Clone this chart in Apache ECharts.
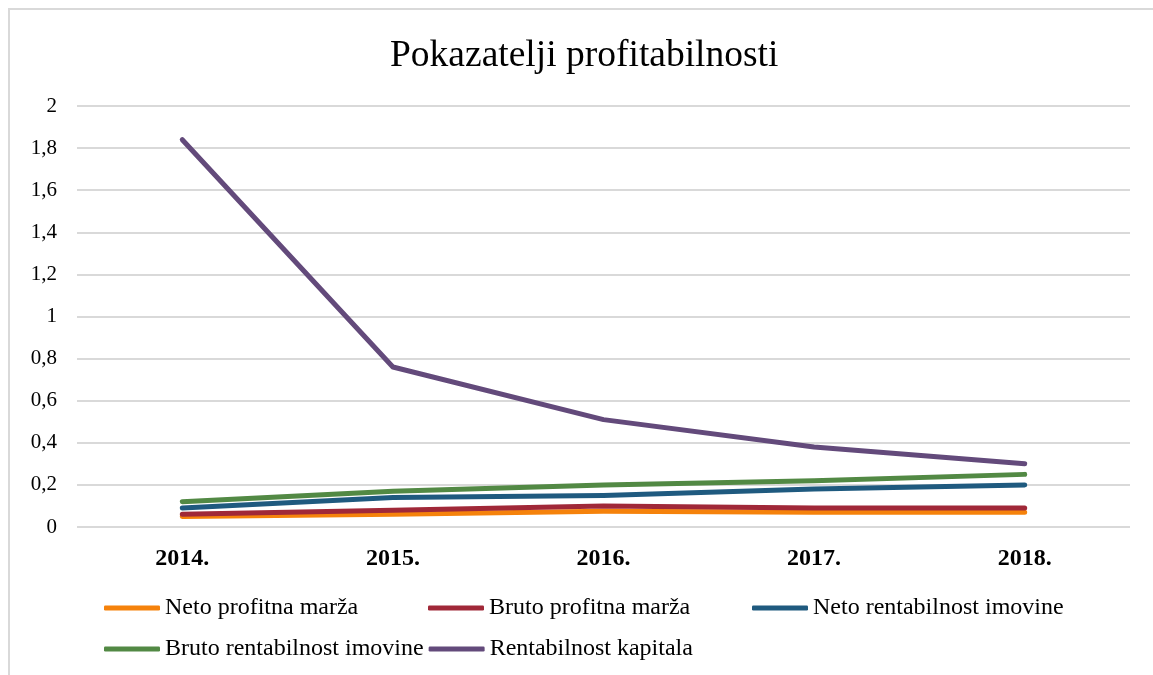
<!DOCTYPE html>
<html>
<head>
<meta charset="utf-8">
<script src="https://cdn.jsdelivr.net/npm/echarts@6/dist/echarts.min.js"></script>
<style>
  html, body { margin: 0; padding: 0; background: #fff; }
  #chart { width: 1153px; height: 675px; }
</style>
</head>
<body>
<div id="chart"></div>
<script>
const years = ['2014.', '2015.', '2016.', '2017.', '2018.'];
const netoProfitnaMarza = [0.05, 0.06, 0.075, 0.07, 0.07];
const brutoProfitnaMarza = [0.06, 0.08, 0.10, 0.09, 0.09];
const netoRentabilnostImovine = [0.09, 0.14, 0.15, 0.18, 0.20];
const brutoRentabilnostImovine = [0.12, 0.17, 0.20, 0.22, 0.25];
const rentabilnostKapitala = [1.84, 0.76, 0.51, 0.38, 0.30];

const seriesDefs = [
  {name: 'Neto profitna marža', data: netoProfitnaMarza, color: '#F5820B'},
  {name: 'Bruto profitna marža', data: brutoProfitnaMarza, color: '#A02838'},
  {name: 'Neto rentabilnost imovine', data: netoRentabilnostImovine, color: '#1F5A7F'},
  {name: 'Bruto rentabilnost imovine', data: brutoRentabilnostImovine, color: '#528944'},
  {name: 'Rentabilnost kapitala', data: rentabilnostKapitala, color: '#634A7B'},
];

const font = '"Liberation Serif", "Times New Roman", serif';
const chart = echarts.init(document.getElementById('chart'));

chart.setOption({
  animation: false,
  textStyle: {fontFamily: font},
  graphic: [{
    type: 'rect',
    silent: true,
    z: -1,
    shape: {x: 9, y: 9, width: 1200, height: 700},
    style: {fill: 'none', stroke: '#d9d9d9', lineWidth: 2}
  }],
  title: {
    text: 'Pokazatelji profitabilnosti',
    left: 385,
    top: 32,
    textStyle: {fontFamily: font, fontSize: 37.5, fontWeight: 'normal', color: '#000'}
  },
  legend: {
    left: 104,
    top: 590,
    width: 1000,
    padding: 0,
    icon: 'roundRect',
    itemWidth: 56,
    itemHeight: 5,
    itemGap: 5,
    data: seriesDefs.map(s => s.name),
    textStyle: {fontFamily: font, fontSize: 24, color: '#000', width: 258, lineHeight: 36}
  },
  grid: {left: 77, width: 1053, top: 106, height: 421},
  xAxis: {
    type: 'category',
    data: years,
    axisLine: {show: false},
    axisTick: {show: false},
    axisLabel: {margin: 20, fontFamily: font, fontSize: 24, fontWeight: 'bold', color: '#000'}
  },
  yAxis: {
    type: 'value',
    min: 0,
    max: 2,
    interval: 0.2,
    axisLabel: {
      margin: 20,
      fontFamily: font,
      fontSize: 21,
      color: '#000',
      formatter: v => String(+v.toFixed(1)).replace('.', ',')
    },
    splitLine: {lineStyle: {color: '#d9d9d9', width: 2}}
  },
  series: seriesDefs.map(s => ({
    name: s.name,
    type: 'line',
    data: s.data,
    symbol: 'none',
    color: s.color,
    lineStyle: {width: 5, cap: 'round', join: 'round', color: s.color}
  }))
});
</script>
</body>
</html>
